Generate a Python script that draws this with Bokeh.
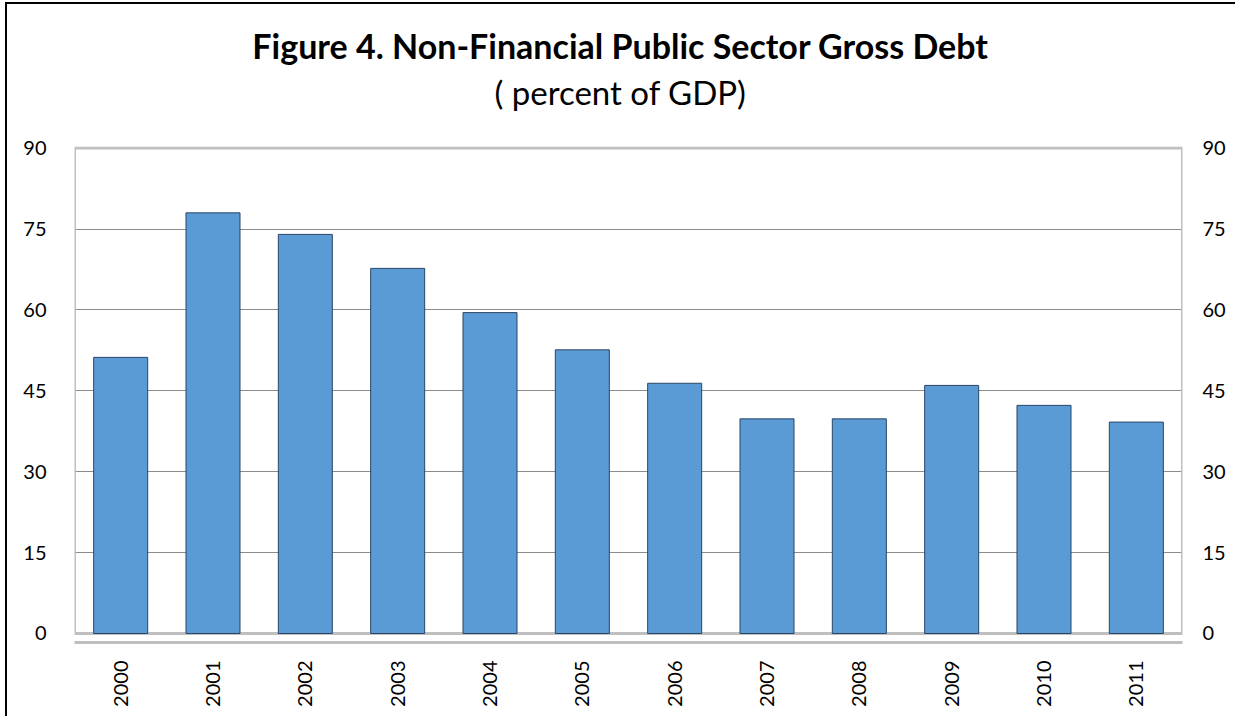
import math
from bokeh.plotting import figure
from bokeh.layouts import column
from bokeh.models import (ColumnDataSource, Range1d, FactorRange, FixedTicker, LinearAxis,
                          BoxAnnotation, Label)
from bokeh.embed import file_html
from bokeh.resources import INLINE

years = ["2000", "2001", "2002", "2003", "2004", "2005",
         "2006", "2007", "2008", "2009", "2010", "2011"]
debt = [51.2, 78.0, 74.0, 67.7, 59.5, 52.6, 46.4, 39.8, 39.8, 46.0, 42.3, 39.2]
y_ticks = [0, 15, 30, 45, 60, 75, 90]
title_text = "Figure 4. Non-Financial Public Sector Gross Debt"
subtitle_text = "( percent of GDP)"

FONT = "Lato"
W = 1228
HEAD_H = 132

# ---- header with the titles ----
head = figure(width=W, height=HEAD_H, output_backend="svg", toolbar_location=None,
              x_range=Range1d(0, 1), y_range=Range1d(0, 1),
              min_border=0, min_border_left=0, min_border_right=0,
              min_border_top=0, min_border_bottom=0)
head.axis.visible = False
head.grid.visible = False
head.outline_line_color = None
head.add_layout(Label(x=546, y=91, x_units="screen", y_units="screen", text=title_text,
                      text_font=FONT, text_font_size="34px", text_font_style="bold",
                      text_align="center", text_baseline="alphabetic", text_color="black"))
head.add_layout(Label(x=546, y=45, x_units="screen", y_units="screen", text=subtitle_text,
                      text_font=FONT, text_font_size="33px",
                      text_align="center", text_baseline="alphabetic", text_color="black"))

# ---- main chart ----
src = ColumnDataSource(dict(year=years, debt=debt))

p = figure(width=W, height=580, output_backend="svg", toolbar_location=None,
           x_range=FactorRange(*years, range_padding=0),
           y_range=Range1d(-1.67, 90.3),
           min_border_left=67, min_border_right=53, min_border_top=10, min_border_bottom=74)
p.outline_line_color = None
p.background_fill_color = "white"
p.border_fill_color = "white"

p.vbar(x="year", top="debt", width=0.585, source=src,
       fill_color="#5b9bd5", line_color="#2a4566", line_width=1)

# plot-area box from 0 to 90
p.add_layout(BoxAnnotation(bottom=y_ticks[0], top=y_ticks[-1], fill_color=None, fill_alpha=0,
                           line_color="#bfbfbf", line_alpha=1, line_width=3, level="underlay"))

# grid
p.xgrid.grid_line_color = None
p.ygrid.ticker = FixedTicker(ticks=y_ticks[1:-1])
p.ygrid.grid_line_color = "#8c8c8c"
p.ygrid.grid_line_width = 1
p.ygrid.level = "underlay"

# left axis
ya = p.yaxis[0]
ya.ticker = FixedTicker(ticks=y_ticks)
ya.axis_line_color = None
ya.major_tick_line_color = None
ya.minor_tick_line_color = None
ya.major_label_standoff = 22
ya.major_label_text_font = FONT
ya.major_label_text_font_size = "20px"
ya.major_label_text_color = "black"

# right axis
ra = LinearAxis(ticker=FixedTicker(ticks=y_ticks))
ra.axis_line_color = None
ra.major_tick_line_color = None
ra.minor_tick_line_color = None
ra.major_label_standoff = 14
ra.major_label_text_font = FONT
ra.major_label_text_font_size = "20px"
ra.major_label_text_color = "black"
p.add_layout(ra, "right")

# x axis
xa = p.xaxis[0]
xa.axis_line_color = "#bfbfbf"
xa.axis_line_width = 3
xa.major_tick_line_color = None
xa.minor_tick_line_color = None
xa.major_label_orientation = math.pi / 2
xa.major_label_standoff = 12
xa.major_label_text_font = FONT
xa.major_label_text_font_size = "20px"
xa.major_label_text_color = "black"

layout = column(head, p, spacing=0)
layout.styles = {"position": "absolute", "left": "5px", "top": "2px",
                 "border-left": "2px solid black", "border-top": "2px solid black"}

open("out.html", "w").write(file_html(layout, INLINE))
